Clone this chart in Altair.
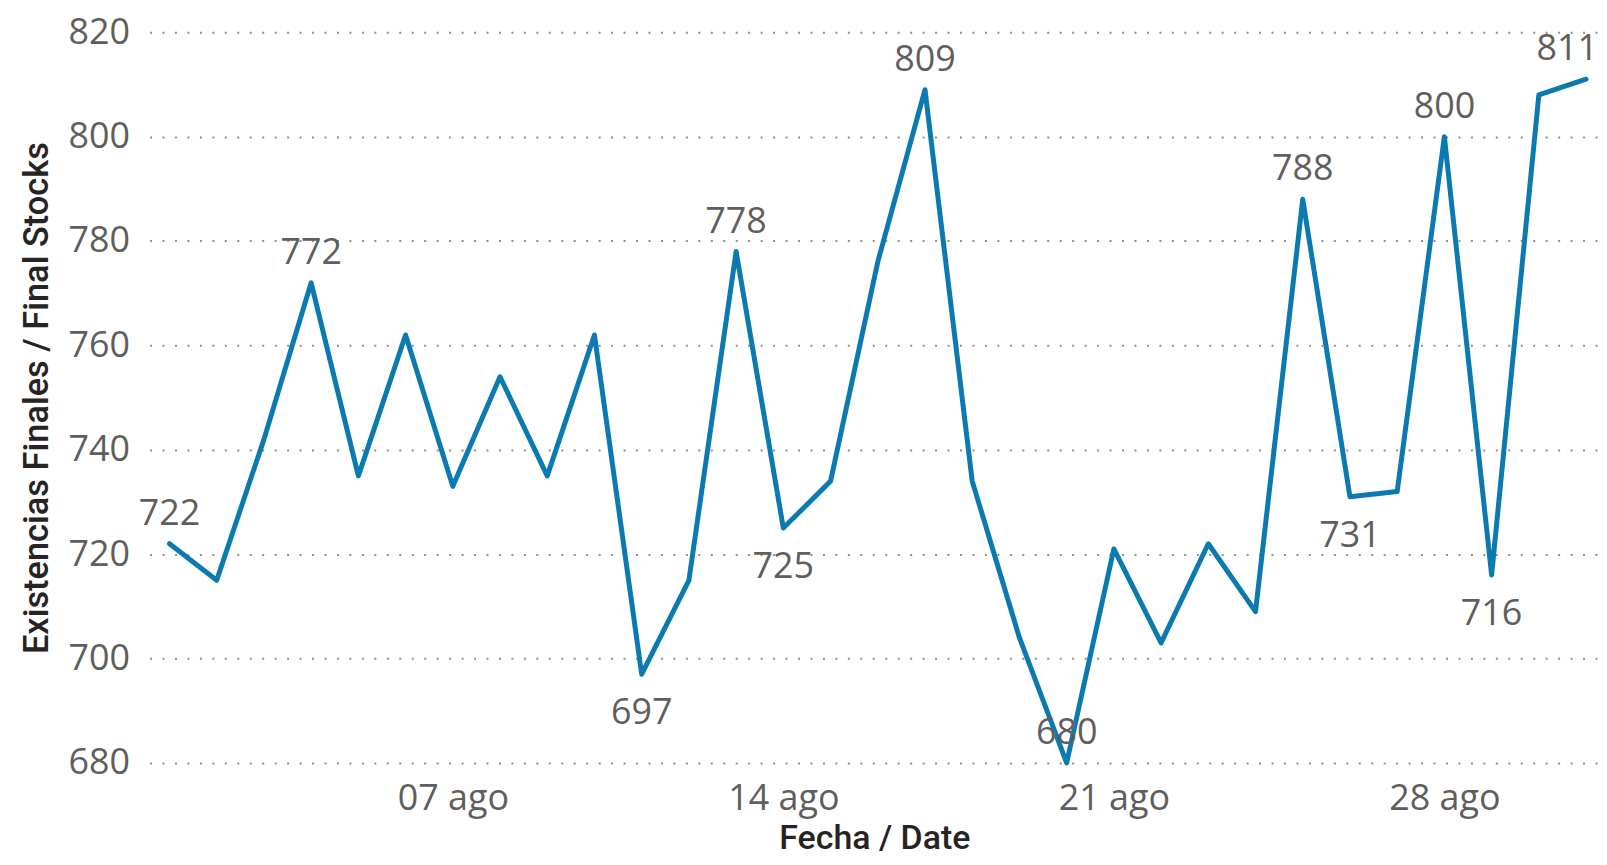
import altair as alt
import pandas as pd

dates = [f"2023-08-{d:02d}T00:00:00" for d in range(1, 32)]
values = [722, 715, 742, 772, 735, 762, 733, 754, 735, 762,
          697, 715, 778, 725, 734, 776, 809, 734, 704, 680,
          721, 703, 722, 709, 788, 731, 732, 800, 716, 808, 811]
label_pos = ["above", "", "", "above", "", "", "", "", "", "",
             "below", "", "above", "below", "", "", "above", "", "", "above",
             "", "", "", "", "above", "below", "", "above", "below", "", "end"]
y_ticks = [680, 700, 720, 740, 760, 780, 800, 820]
x_ticks = [
    {"year": 2023, "month": 8, "date": 7},
    {"year": 2023, "month": 8, "date": 14},
    {"year": 2023, "month": 8, "date": 21},
    {"year": 2023, "month": 8, "date": 28},
]

df = pd.DataFrame({"Fecha": dates, "Valor": values, "pos": label_pos})

LABEL_FONT = "Segoe UI, Open Sans"
TITLE_FONT = "DIN, Roboto"
LABEL_COLOR = "#605E5C"
TITLE_COLOR = "#252423"
LINE_COLOR = "#0B7AB0"

x_enc = alt.X(
    "Fecha:T",
    title="Fecha / Date",
    scale=alt.Scale(domain=[
        {"year": 2023, "month": 7, "date": 31, "hours": 13, "minutes": 52},
        {"year": 2023, "month": 8, "date": 31, "hours": 6, "minutes": 35},
    ]),
    axis=alt.Axis(
        values=x_ticks,
        labelExpr="timeFormat(datum.value, '%d') + ' ago'",
        grid=False, domain=False, ticks=False,
        labelFont=LABEL_FONT, labelFontSize=36, labelColor=LABEL_COLOR,
        labelPadding=19, labelFlush=False,
        titleFont=TITLE_FONT, titleFontSize=34, titleColor=TITLE_COLOR,
        titleFontWeight=500, titlePadding=5,
    ),
)
y_enc = alt.Y(
    "Valor:Q",
    title="Existencias Finales / Final Stocks",
    scale=alt.Scale(domain=[680, 820], nice=False, zero=False),
    axis=alt.Axis(
        values=y_ticks,
        grid=True, gridColor="#8F8F84", gridDash=[2, 10.5], gridWidth=2,
        domain=False, ticks=False,
        labelFont=LABEL_FONT, labelFontSize=36, labelColor=LABEL_COLOR,
        labelPadding=20,
        titleFont=TITLE_FONT, titleFontSize=34.5, titleColor=TITLE_COLOR,
        titleFontWeight=500, titlePadding=14,
    ),
)

base = alt.Chart(df)

line = base.mark_line(
    color=LINE_COLOR, strokeWidth=5, strokeJoin="round", strokeCap="round"
).encode(x=x_enc, y=y_enc)

text_props = dict(font=LABEL_FONT, fontSize=36, color=LABEL_COLOR, baseline="middle")

above = base.transform_filter("datum.pos == 'above'").mark_text(
    align="center", dy=-30, **text_props
).encode(x="Fecha:T", y="Valor:Q", text="Valor:Q")

below = base.transform_filter("datum.pos == 'below'").mark_text(
    align="center", dy=39, **text_props
).encode(x="Fecha:T", y="Valor:Q", text="Valor:Q")

end = base.transform_filter("datum.pos == 'end'").mark_text(
    align="right", dx=12, dy=-30, **text_props
).encode(x="Fecha:T", y="Valor:Q", text="Valor:Q")

chart = alt.layer(line, above, below, end).properties(
    width=1454,
    height=733,
    autosize=alt.AutoSizeParams(type="none"),
    padding={"left": 142, "top": 23, "right": 0, "bottom": 93},
    background="white",
).configure_view(stroke=None, clip=False)

chart.save("out.html", embed_options={"renderer": "svg", "actions": False})
